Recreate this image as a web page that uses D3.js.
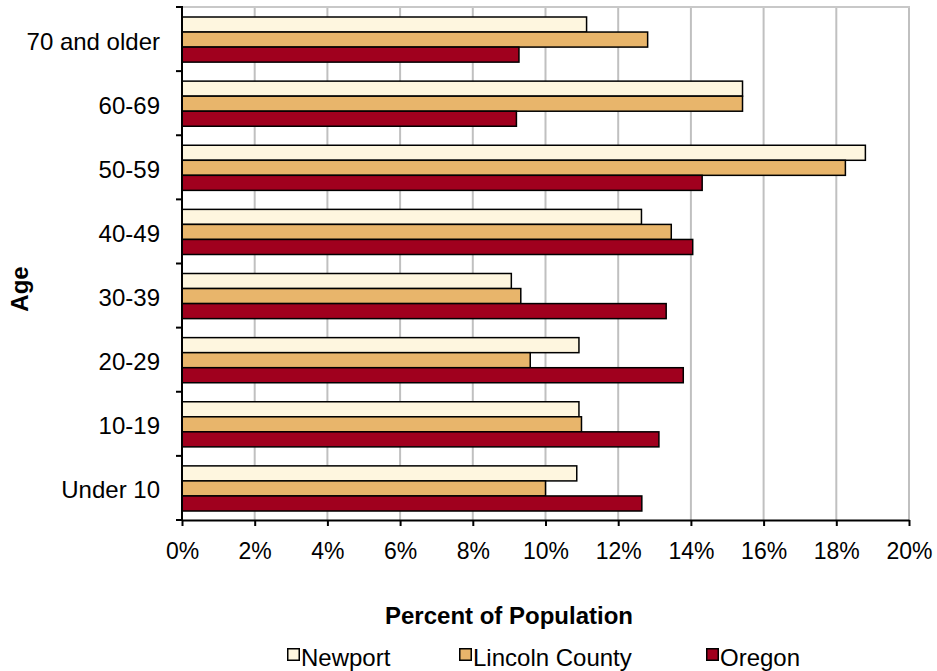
<!DOCTYPE html>
<html><head><meta charset="utf-8">
<script src="https://cdn.jsdelivr.net/npm/d3@7"></script>
<style>body{margin:0;background:#fff}svg{display:block}text{font-family:"Liberation Sans",Arial,sans-serif}</style>
</head><body><svg id="c" width="937" height="671"></svg>
<script>
const categories = ["Under 10","10-19","20-29","30-39","40-49","50-59","60-69","70 and older"];
const seriesNames = ["Newport","Lincoln County","Oregon"];
const newport = [10.86, 10.92, 10.92, 9.06, 12.64, 18.8, 15.42, 11.13];
const lincoln = [10.0, 10.99, 9.58, 9.32, 13.46, 18.25, 15.42, 12.81];
const oregon = [12.65, 13.12, 13.79, 13.32, 14.05, 14.31, 9.2, 9.27];
const colors = ["#FEF6DF","#E8B56B","#A0001E"];
const xTicks = [0,2,4,6,8,10,12,14,16,18,20];

const svg = d3.select("#c");
const L=182, R=909, T=7, B=520;
const x = d3.scaleLinear().domain([0,20]).range([L,R]);
const y = d3.scaleBand().domain(categories.slice().reverse()).range([T,B]).paddingInner(0).paddingOuter(0);
const inner = d3.scaleBand().domain(seriesNames).range([10, y.bandwidth()-9]);

// grid
svg.append("g").selectAll("line").data(xTicks.slice(1)).join("line")
  .attr("x1",d=>x(d)).attr("x2",d=>x(d)).attr("y1",T).attr("y2",B)
  .attr("stroke","#c0c0c0").attr("stroke-width",2);
svg.append("line").attr("x1",L).attr("x2",R+1).attr("y1",T).attr("y2",T).attr("stroke","#c8c8c8").attr("stroke-width",2);

const data = [newport, lincoln, oregon];
const g = svg.append("g");
categories.forEach((c,i)=>{
  seriesNames.forEach((s,j)=>{
    g.append("rect").attr("x",x(0)).attr("y",y(c)+inner(s))
      .attr("width",x(data[j][i])-x(0)).attr("height",inner.bandwidth())
      .attr("fill",colors[j]).attr("stroke","#000").attr("stroke-width",1.5);
  });
});

// axes
const xa = svg.append("g").attr("transform",`translate(0,${B})`)
  .call(d3.axisBottom(x).tickValues(xTicks).tickFormat(d=>d+"%").tickSize(6).tickSizeOuter(0).tickPadding(0));
xa.select(".domain").attr("stroke","#000").attr("stroke-width",2);
xa.selectAll(".tick line").attr("stroke","#000").attr("stroke-width",2);
xa.selectAll("text").attr("font-size",23).attr("fill","#000").attr("dy",null).attr("y",39);

const ya = svg.append("g").attr("transform",`translate(${L},0)`);
ya.append("line").attr("x1",0).attr("x2",0).attr("y1",T-1).attr("y2",B+1).attr("stroke","#000").attr("stroke-width",2);
const bounds = d3.range(categories.length+1).map(k=>T + k*y.step());
ya.selectAll("line.t").data(bounds).join("line").attr("class","t")
  .attr("x1",-6).attr("x2",0).attr("y1",d=>d).attr("y2",d=>d).attr("stroke","#000").attr("stroke-width",2);
ya.selectAll("text").data(categories).join("text")
  .attr("x",-22).attr("y",d=>y(d)+y.bandwidth()/2+10.5)
  .attr("text-anchor","end").attr("font-size",24).text(d=>d);

svg.append("text").attr("x",509).attr("y",624).attr("text-anchor","middle")
  .attr("font-size",24).attr("font-weight","bold").text("Percent of Population");
svg.append("text").attr("transform","translate(28,289) rotate(-90)").attr("text-anchor","middle")
  .attr("font-size",24).attr("font-weight","bold").text("Age");

// legend
const legX = [287, 459, 706];
const lg = svg.append("g");
seriesNames.forEach((s,j)=>{
  lg.append("rect").attr("x",legX[j]+0.75).attr("y",648.75).attr("width",11.5).attr("height",11.5)
    .attr("fill",colors[j]).attr("stroke","#000").attr("stroke-width",1.5);
  lg.append("text").attr("x",legX[j]+14).attr("y",666).attr("font-size",24).text(s);
});
</script></body></html>
